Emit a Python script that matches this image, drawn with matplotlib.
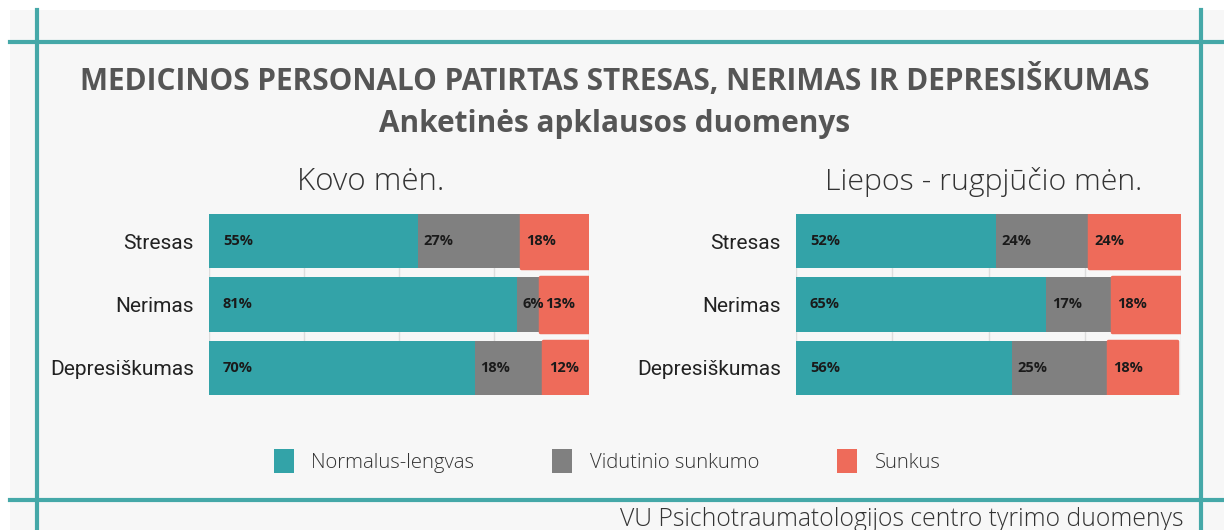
import matplotlib
matplotlib.use('Agg')
import matplotlib.pyplot as plt
import numpy as np
from matplotlib.lines import Line2D
from matplotlib.patches import Patch

categories = ['Stresas', 'Nerimas', 'Depresiškumas']
levels = ['Normalus-lengvas', 'Vidutinio sunkumo', 'Sunkus']
kovo = {
    'Normalus-lengvas': [55, 81, 70],
    'Vidutinio sunkumo': [27, 6, 18],
    'Sunkus': [18, 13, 12],
}
liepos = {
    'Normalus-lengvas': [52, 65, 56],
    'Vidutinio sunkumo': [24, 17, 25],
    'Sunkus': [24, 18, 18],
}
panel_titles = ['Kovo mėn.', 'Liepos - rugpjūčio mėn.']
colors = ['#33a3a8', '#808080', '#ee6b5a']
teal = '#45a8a8'
txt = '#555555'

fig = plt.figure(figsize=(12.24, 5.30), dpi=100, facecolor='white')
# light background panel inside white margin
fig.patches.append(plt.Rectangle((10/1224, 0), 1, 1 - 10/530, transform=fig.transFigure,
                                 facecolor='#f7f7f7', edgecolor='none', zorder=-10))

# frame lines
for y in [1 - 42/530, 1 - 500/530]:
    fig.add_artist(Line2D([10/1224, 1], [y, y], color=teal, lw=3, transform=fig.transFigure))
for x in [37/1224, 1201/1224]:
    fig.add_artist(Line2D([x, x], [0, 1 - 10/530], color=teal, lw=3, transform=fig.transFigure))

fig.text(0.5025, 1 - 90/530, 'MEDICINOS PERSONALO PATIRTAS STRESAS, NERIMAS IR DEPRESIŠKUMAS',
         ha='center', va='baseline', fontsize=21.4, fontweight='bold', family='Open Sans', color=txt)
fig.text(0.5025, 1 - 132/530, 'Anketinės apklausos duomenys',
         ha='center', va='baseline', fontsize=21.4, fontweight='bold', family='Open Sans', color=txt)

axes_rects = [[209/1224, 1 - 395/530, 380/1224, 181/530],
              [796/1224, 1 - 395/530, 385/1224, 181/530]]
title_x = [0.426, 0.488]
title_size = [22.5, 21.8]
ypos = np.arange(len(categories))

for i, data in enumerate([kovo, liepos]):
    ax = fig.add_axes(axes_rects[i])
    ax.set_facecolor('#f7f7f7')
    left = np.zeros(len(categories))
    for j, lev in enumerate(levels):
        vals = np.array(data[lev])
        bars = ax.barh(ypos, vals, left=left, height=0.86, color=colors[j], zorder=2)
        if j == len(levels) - 1:
            for b in bars:
                b.set_edgecolor(colors[j])
                b.set_linewidth(2.5)
                b.set_joinstyle('round')
        for k, v in enumerate(vals):
            off = 10 if j == 0 else 4
            ax.annotate(f'{v}%', (left[k], ypos[k]), xytext=(off, 0), textcoords='offset points',
                        ha='left', va='center', fontsize=10.5, fontweight='bold',
                        family='Open Sans', color='#1a1a1a', zorder=3)
        left += vals
    ax.set_xlim(0, 100)
    ax.set_ylim(2.43, -0.43)
    ax.set_xticks([0, 25, 50, 75, 100])
    ax.xaxis.grid(True, color='#dddddd', lw=1, zorder=0)
    ax.tick_params(axis='x', length=0, labelbottom=False)
    ax.set_yticks(ypos)
    ax.set_yticklabels(categories, family='Roboto', fontsize=15, color='#222222')
    ax.tick_params(axis='y', length=0, pad=11)
    for s in ax.spines.values():
        s.set_visible(False)
    ax.set_title(panel_titles[i], x=title_x[i], pad=17, fontsize=title_size[i], family='Open Sans',
                 fontweight='light', color='#333333')

handles = [Patch(facecolor=c, edgecolor='none') for c in colors]
fig.legend(handles, levels, loc='center', bbox_to_anchor=(0.496, 1 - 461/530), ncol=3,
           frameon=False, prop={'family': 'Open Sans', 'weight': 'light', 'size': 14.6},
           handlelength=1.0, handleheight=1.45, handletextpad=0.85, columnspacing=3.85,
           labelcolor='#333333')

fig.text(1183/1224, 1 - 526/530, 'VU Psichotraumatologijos centro tyrimo duomenys',
         ha='right', va='baseline', fontsize=17.8, family='Open Sans', fontweight='light',
         color='#333333')

fig.savefig('out.png', dpi=100, facecolor=fig.get_facecolor())
